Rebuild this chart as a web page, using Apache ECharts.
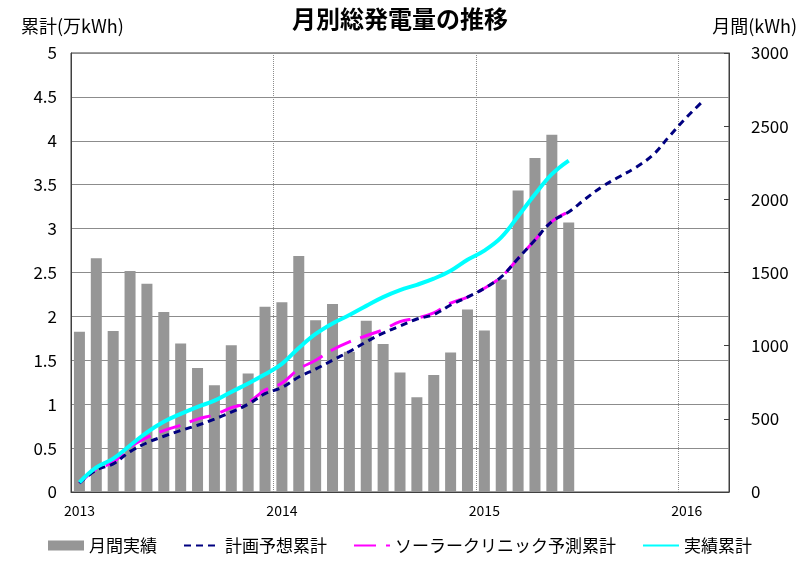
<!DOCTYPE html>
<html>
<head>
<meta charset="utf-8">
<script src="https://cdn.jsdelivr.net/npm/echarts@6/dist/echarts.min.js"></script>
<style>
  html, body { margin: 0; padding: 0; background: #fff; }
  #chart { width: 800px; height: 561px; }
</style>
</head>
<body>
<div id="chart"></div>
<script>
// months from 2013-01 to 2016-03
const MONTHS = [];
for (let y = 2013; y <= 2016; y++) {
  for (let m = 1; m <= 12; m++) {
    if (y === 2016 && m > 3) break;
    MONTHS.push(y + "-" + String(m).padStart(2, "0"));
  }
}

// monthly generation (kWh), 2013-01 .. 2015-06
const MONTHLY = [
  1095, 1597, 1100, 1510, 1423, 1230, 1015, 847, 730, 1002, 810, 1266,
  1296, 1613, 1173, 1284, 958, 1170, 1011, 817, 648, 799, 954, 1248,
  1104, 1453, 2060, 2283, 2441, 1841
];

// cumulative lines (万kWh)
const PLAN_CUM = [
  0.10, 0.25, 0.32, 0.46, 0.56, 0.635, 0.70, 0.76, 0.83, 0.91, 1.00, 1.12,
  1.19, 1.31, 1.40, 1.50, 1.60, 1.71, 1.81, 1.89, 1.97, 2.02, 2.13, 2.22,
  2.32, 2.45, 2.66, 2.87, 3.08, 3.19, 3.34, 3.48, 3.59, 3.70, 3.84, 4.06,
  4.27, 4.46
];
const SOLAR_CUM = [
  0.10, 0.26, 0.34, 0.51, 0.62, 0.70, 0.76, 0.83, 0.88, 0.96, 1.02, 1.16,
  1.24, 1.40, 1.50, 1.62, 1.71, 1.78, 1.85, 1.94, 1.98, 2.04, 2.15, 2.22,
  2.32, 2.45, 2.66, 2.87, 3.08, 3.19
];
const ACTUAL_CUM = [
  0.11, 0.28, 0.38, 0.53, 0.68, 0.80, 0.89, 0.97, 1.04, 1.14, 1.236, 1.34,
  1.46, 1.64, 1.80, 1.92, 2.015, 2.12, 2.22, 2.30, 2.36, 2.43, 2.52, 2.645,
  2.75, 2.90, 3.14, 3.39, 3.62, 3.775
];

const LEFT_TICKS = { min: 0, max: 5, interval: 0.5 };
const RIGHT_TICKS = { min: 0, max: 3000, interval: 500 };

const FONT = "'Noto Sans CJK JP', 'Noto Sans', sans-serif";

const chart = echarts.init(document.getElementById("chart"));

chart.setOption({
  animation: false,
  backgroundColor: "#ffffff",
  textStyle: { fontFamily: FONT },
  title: {
    text: "月別総発電量の推移",
    left: "center",
    top: 2,
    textStyle: { fontFamily: FONT, fontSize: 24, fontWeight: "bold", color: "#000" }
  },
  grid: {
    left: 71, right: 68, top: 53, bottom: 69,
    show: true,
    borderColor: "#404040",
    borderWidth: 1,
    backgroundColor: "transparent"
  },
  legend: {
    bottom: 2,
    left: "center",
    itemWidth: 36,
    itemHeight: 10,
    itemGap: 26,
    textStyle: { fontFamily: FONT, fontSize: 17, color: "#000" },
    data: [
      { name: "月間実績", icon: "rect" },
      { name: "計画予想累計", itemStyle: { opacity: 0 } },
      { name: "ソーラークリニック予測累計", itemStyle: { opacity: 0 } },
      { name: "実績累計", itemStyle: { opacity: 0 } }
    ]
  },
  xAxis: {
    type: "category",
    data: MONTHS,
    boundaryGap: true,
    axisLine: { show: true, lineStyle: { color: "#404040" } },
    axisTick: { show: false },
    axisLabel: {
      interval: 11,
      margin: 12,
      fontSize: 14,
      color: "#000",
      formatter: v => v.slice(0, 4)
    },
    splitLine: {
      show: true,
      interval: 11,
      lineStyle: { color: "#8c8c8c", type: "dotted", width: 1 }
    }
  },
  yAxis: [
    {
      type: "value",
      min: LEFT_TICKS.min,
      max: LEFT_TICKS.max,
      interval: LEFT_TICKS.interval,
      name: "累計(万kWh)",
      nameLocation: "end",
      nameGap: 18,
      nameTextStyle: { fontFamily: FONT, fontSize: 18, color: "#000", align: "left", padding: [0, 0, 0, -50] },
      axisLine: { show: true, lineStyle: { color: "#404040" } },
      axisTick: { show: false },
      axisLabel: { fontSize: 17, color: "#000", margin: 14 },
      splitLine: { show: true, lineStyle: { color: "#8c8c8c", width: 1 } }
    },
    {
      type: "value",
      min: RIGHT_TICKS.min,
      max: RIGHT_TICKS.max,
      interval: RIGHT_TICKS.interval,
      name: "月間(kWh)",
      nameLocation: "end",
      nameGap: 18,
      nameTextStyle: { fontFamily: FONT, fontSize: 18, color: "#000", align: "right", padding: [0, -68, 0, 0] },
      axisLine: { show: true, lineStyle: { color: "#404040" } },
      axisTick: { show: true, inside: true, length: 5, lineStyle: { color: "#404040" } },
      axisLabel: { fontSize: 17, color: "#000", margin: 22, formatter: v => String(v) },
      splitLine: { show: false }
    }
  ],
  series: [
    {
      name: "月間実績",
      type: "bar",
      yAxisIndex: 1,
      data: MONTHLY,
      barWidth: 11,
      itemStyle: { color: "#969696" },
      z: 1
    },
    {
      name: "計画予想累計",
      type: "line",
      yAxisIndex: 0,
      data: PLAN_CUM,
      smooth: 0.4,
      symbol: "none",
      lineStyle: { color: "#000080", width: 3, type: [7, 5] },
      itemStyle: { color: "#000080" },
      z: 3
    },
    {
      name: "ソーラークリニック予測累計",
      type: "line",
      yAxisIndex: 0,
      data: SOLAR_CUM,
      smooth: 0.4,
      symbol: "none",
      lineStyle: { color: "#ff00ff", width: 3, type: [22, 10] },
      itemStyle: { color: "#ff00ff" },
      z: 2
    },
    {
      name: "実績累計",
      type: "line",
      yAxisIndex: 0,
      data: ACTUAL_CUM,
      smooth: 0.4,
      symbol: "none",
      lineStyle: { color: "#00ffff", width: 4 },
      itemStyle: { color: "#00ffff" },
      z: 4
    }
  ]
});
</script>
</body>
</html>
